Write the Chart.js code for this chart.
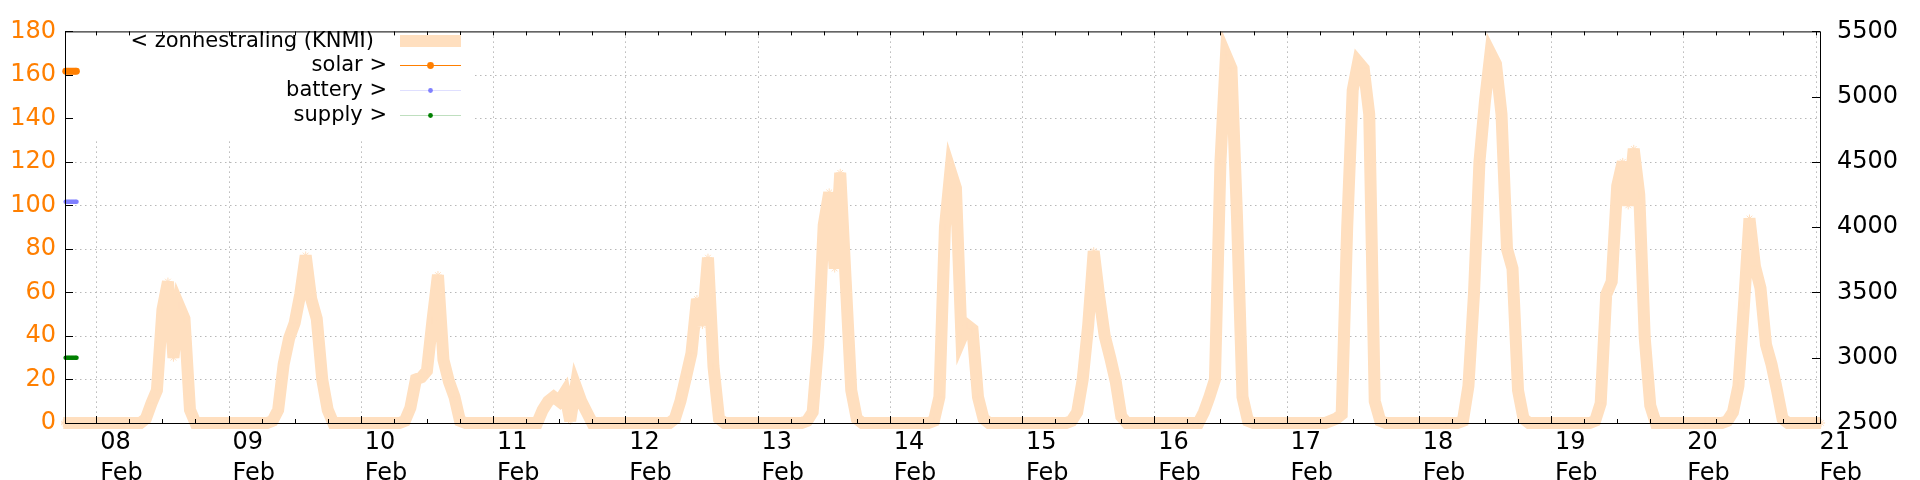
<!doctype html>
<html>

<head>
    <meta charset="utf-8" />
    <title>zonnestraling</title>
    <script src="https://cdn.jsdelivr.net/npm/chart.js@4/dist/chart.umd.min.js"></script>
    <style>
        html, body { margin: 0; padding: 0; background: #fff; }
        #wrap { width: 1920px; height: 480px; }
    </style>
</head>

<body>
    <div id="wrap"><canvas id="energyChart" width="1920" height="480"></canvas></div>
</body>

<script>
    // KNMI radiation per hour, one array per day (hour 0..23)
    var feb07 = [0, 0, 0, 0, 0, 0]; // only 18..23 h
    var feb08 = [0, 0, 0, 0, 0, 0, 0, 0, 0, 2, 9, 15, 52, 65, 30, 54, 48, 6, 0, 0, 0, 0, 0, 0];
    var feb09 = [0, 0, 0, 0, 0, 0, 0, 0, 1, 6, 27, 39, 46, 59, 77, 57, 48, 20, 6, 0, 0, 0, 0, 0];
    var feb10 = [0, 0, 0, 0, 0, 0, 0, 0, 1, 7, 20, 21, 24, 47, 68, 29, 19, 12, 1, 0, 0, 0, 0, 0];
    var feb11 = [0, 0, 0, 0, 0, 0, 0, 0, 0, 6, 10, 12, 10, 14, 1, 17, 10, 5, 0, 0, 0, 0, 0, 0];
    var feb12 = [0, 0, 0, 0, 0, 0, 0, 0, 0, 2, 10, 21, 32, 57, 45, 76, 26, 2, 0, 0, 0, 0, 0, 0];
    var feb13 = [0, 0, 0, 0, 0, 0, 0, 0, 0, 1, 5, 36, 91, 106, 71, 115, 65, 15, 2, 0, 0, 0, 0, 0];
    var feb14 = [0, 0, 0, 0, 0, 0, 0, 0, 1, 12, 90, 116, 108, 39, 45, 43, 12, 2, 0, 0, 0, 0, 0, 0];
    var feb15 = [0, 0, 0, 0, 0, 0, 0, 0, 0, 1, 5, 20, 45, 79, 58, 40, 30, 19, 3, 0, 0, 0, 0, 0];
    var feb16 = [0, 0, 0, 0, 0, 0, 0, 0, 0, 5, 12, 20, 120, 169, 163, 95, 12, 1, 0, 0, 0, 0, 0, 0];
    var feb17 = [0, 0, 0, 0, 0, 0, 0, 0, 1, 2, 4, 90, 153, 166, 163, 142, 10, 1, 0, 0, 0, 0, 0, 0];
    var feb18 = [0, 0, 0, 0, 0, 0, 0, 0, 1, 17, 59, 120, 148, 170, 165, 142, 80, 71, 15, 2, 0, 0, 0, 0];
    var feb19 = [0, 0, 0, 0, 0, 0, 0, 0, 1, 9, 59, 65, 109, 120, 100, 126, 105, 39, 8, 0, 0, 0, 0, 0];
    var feb20 = [0, 0, 0, 0, 0, 0, 0, 0, 1, 5, 17, 54, 94, 72, 62, 36, 27, 15, 2, 0, 0, 0, 0, 0];
    var feb21 = [0, 0]; // 0..1 h

    var dayLabels = ['08', '09', '10', '11', '12', '13', '14', '15', '16', '17', '18', '19', '20', '21'];
    var monthLabel = 'Feb';

    // meter readings (right axis), hours relative to 08 Feb 00:00
    var meterHours = [-5.55, -5.3, -5.05, -4.8, -4.55, -4.3, -4.05, -3.8, -3.6];
    var solarValues = [5195, 5195, 5195, 5195, 5195, 5195, 5195, 5195, 5195];
    var batteryValues = [4195, 4195, 4195, 4195, 4195, 4195, 4195, 4195, 4195];
    var supplyValues = [3000, 3000, 3000, 3000, 3000, 3000, 3000, 3000, 3000];

    var legendLabels = ['< zonnestraling (KNMI)', 'solar >', 'battery >', 'supply >'];

    var FONT = 'DejaVu Sans';
    var ORANGE = '#ff7f00';
    var PEACH = '#ffdfbf';

    // build hourly points
    var radiation = [];
    feb07.forEach((v, h) => radiation.push({ x: -6 + h, y: v }));
    [feb08, feb09, feb10, feb11, feb12, feb13, feb14, feb15, feb16, feb17, feb18, feb19, feb20].forEach((day, d) => {
        day.forEach((v, h) => radiation.push({ x: d * 24 + h, y: v }));
    });
    feb21.forEach((v, h) => radiation.push({ x: 13 * 24 + h, y: v }));

    function meterSeries(values) {
        return meterHours.map((h, i) => ({ x: h, y: values[i] }));
    }

    // tick every 6 hours, label only at midnight
    var xTicks = [];
    for (var t = 0; t <= (dayLabels.length - 1) * 24; t += 6) xTicks.push(t);

    var framePlugin = {
        id: 'frame',
        beforeDatasetsDraw(chart) {
            var ctx = chart.ctx, a = chart.chartArea;
            var xs = chart.scales.x, ys = chart.scales.y;
            ctx.save();
            ctx.strokeStyle = '#b8b8b8';
            ctx.lineWidth = 1;
            ctx.setLineDash([1.5, 3.5]);
            ctx.beginPath();
            for (var v = 20; v < 180; v += 20) {
                var py = Math.round(ys.getPixelForValue(v)) + 0.5;
                ctx.moveTo(a.left, py); ctx.lineTo(a.right, py);
            }
            for (var d = 0; d < dayLabels.length; d++) {
                var px = Math.round(xs.getPixelForValue(d * 24)) + 0.5;
                ctx.moveTo(px, a.top); ctx.lineTo(px, a.bottom);
            }
            ctx.stroke();
            // opaque key background
            ctx.fillStyle = '#fff';
            ctx.fillRect(a.left + 1, a.top + 1, 407, 106);
            ctx.restore();
            // sharp peaks get bevelled, like the cairo output
            ctx.miterLimit = 5.5;
        },
        afterDatasetsDraw(chart) {
            var ctx = chart.ctx, a = chart.chartArea;
            var xs = chart.scales.x, ys = chart.scales.y, y2 = chart.scales.y2;
            ctx.save();
            ctx.strokeStyle = '#000';
            ctx.lineWidth = 1;
            ctx.setLineDash([]);
            ctx.strokeRect(a.left + 0.5, a.top + 0.5, a.right - a.left, a.bottom - a.top);
            ctx.beginPath();
            for (var v = 0; v <= 180; v += 20) {
                var py = Math.round(ys.getPixelForValue(v)) + 0.5;
                ctx.moveTo(a.left, py); ctx.lineTo(a.left + 8, py);
            }
            for (var w = 2500; w <= 5500; w += 500) {
                var py2 = Math.round(y2.getPixelForValue(w)) + 0.5;
                ctx.moveTo(a.right, py2); ctx.lineTo(a.right - 8, py2);
            }
            xTicks.forEach(t => {
                var px = Math.round(xs.getPixelForValue(t)) + 0.5;
                var len = t % 24 === 0 ? 7 : 4;
                ctx.moveTo(px, a.bottom); ctx.lineTo(px, a.bottom - len);
                ctx.moveTo(px, a.top); ctx.lineTo(px, a.top + 4);
            });
            ctx.stroke();

            // key
            ctx.font = '21px "' + FONT + '"';
            ctx.fillStyle = '#000';
            ctx.textAlign = 'right';
            ctx.textBaseline = 'middle';
            var rows = [41, 65, 90, 115];
            var sx0 = 400, sx1 = 461, mid = 430.5;
            ctx.fillText(legendLabels[0], 374, rows[0] + 1);
            for (var i = 1; i < 4; i++) ctx.fillText(legendLabels[i], 387, rows[i] + 1);

            ctx.strokeStyle = PEACH;
            ctx.lineWidth = 12;
            ctx.beginPath(); ctx.moveTo(sx0, rows[0]); ctx.lineTo(sx1, rows[0]); ctx.stroke();

            var samples = [
                { line: ORANGE, dot: ORANGE, r: 3.4 },
                { line: 'rgba(128,128,255,0.25)', dot: '#8080ff', r: 2.4 },
                { line: 'rgba(0,128,0,0.25)', dot: '#008000', r: 2.4 }
            ];
            samples.forEach((s, k) => {
                var yy = rows[k + 1] + 0.5;
                ctx.strokeStyle = s.line;
                ctx.lineWidth = 1;
                ctx.beginPath(); ctx.moveTo(sx0, yy); ctx.lineTo(sx1, yy); ctx.stroke();
                ctx.fillStyle = s.dot;
                ctx.beginPath(); ctx.arc(mid, yy, s.r, 0, Math.PI * 2); ctx.fill();
            });
            ctx.restore();
        }
    };

    var ctx = document.getElementById('energyChart').getContext('2d');
    var myChart = new Chart(ctx, {
        type: 'line',
        data: {
            datasets: [{
                label: legendLabels[0],
                data: radiation,
                yAxisID: 'y',
                borderColor: PEACH,
                borderWidth: 12,
                borderJoinStyle: 'miter',
                pointStyle: 'star',
                pointRadius: 4,
                pointBorderWidth: 1,
                pointBorderColor: PEACH,
                pointBackgroundColor: PEACH,
                fill: false,
                clip: { left: 4, top: 0, right: 8, bottom: 8 }
            }, {
                label: legendLabels[1],
                data: meterSeries(solarValues),
                yAxisID: 'y2',
                borderColor: ORANGE,
                borderWidth: 1,
                pointRadius: 3.4,
                pointBorderWidth: 0,
                pointBackgroundColor: ORANGE,
                clip: false
            }, {
                label: legendLabels[2],
                data: meterSeries(batteryValues),
                yAxisID: 'y2',
                borderColor: 'rgba(128,128,255,0.25)',
                borderWidth: 1,
                pointRadius: 2.3,
                pointBorderWidth: 0,
                pointBackgroundColor: '#8080ff',
                clip: false
            }, {
                label: legendLabels[3],
                data: meterSeries(supplyValues),
                yAxisID: 'y2',
                borderColor: 'rgba(0,128,0,0.25)',
                borderWidth: 1,
                pointRadius: 2.3,
                pointBorderWidth: 0,
                pointBackgroundColor: '#008000',
                clip: false
            }]
        },
        options: {
            responsive: false,
            animation: false,
            events: [],
            layout: { padding: { top: 20, left: 0, right: 0, bottom: 0 } },
            plugins: { legend: { display: false }, tooltip: { enabled: false } },
            scales: {
                x: {
                    type: 'linear',
                    min: -5.68,
                    max: 312.8,
                    grid: { display: false, drawTicks: false },
                    border: { display: false },
                    afterBuildTicks: s => { s.ticks = xTicks.map(v => ({ value: v })); },
                    afterFit: s => { s.height = 57; },
                    ticks: {
                        autoSkip: false,
                        maxRotation: 0,
                        minRotation: 0,
                        align: 'start',
                        labelOffset: 4,
                        padding: 4,
                        color: '#000',
                        font: { family: FONT, size: 24, lineHeight: 31 / 24 },
                        callback: v => (v % 24 === 0 ? [dayLabels[v / 24], monthLabel] : '')
                    }
                },
                y: {
                    position: 'left',
                    min: 0,
                    max: 180,
                    grid: { display: false, drawTicks: false },
                    border: { display: false },
                    afterFit: s => { s.width = 65; },
                    ticks: { stepSize: 20, padding: 9, color: ORANGE, font: { family: FONT, size: 24 } }
                },
                y2: {
                    position: 'right',
                    min: 2500,
                    max: 5500,
                    grid: { display: false, drawTicks: false },
                    border: { display: false },
                    afterFit: s => { s.width = 100; },
                    ticks: {
                        stepSize: 500, padding: 17, color: '#000', font: { family: FONT, size: 24 },
                        callback: v => String(v)
                    }
                }
            }
        },
        plugins: [framePlugin]
    });
</script>

</html>
